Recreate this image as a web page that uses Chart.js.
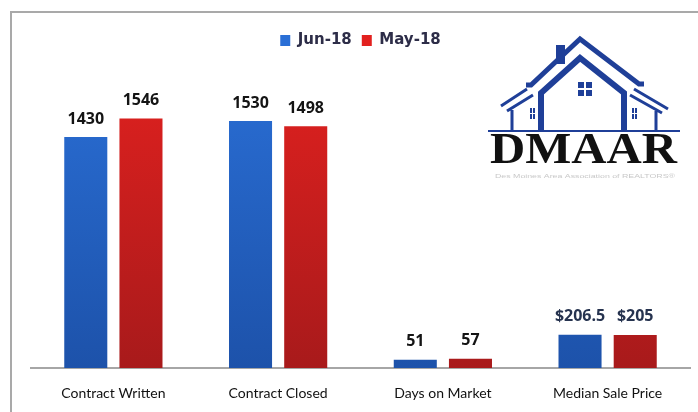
<!DOCTYPE html>
<html>
<head>
<meta charset="utf-8">
<script src="https://cdn.jsdelivr.net/npm/chart.js@4.4.0/dist/chart.umd.min.js"></script>
<style>
  html, body { margin: 0; padding: 0; background: #fff; }
</style>
</head>
<body>
<canvas id="chart" width="698" height="412"></canvas>
<script>
'use strict';

var categories = ['Contract Written', 'Contract Closed', 'Days on Market', 'Median Sale Price'];
var jun18 = [1430, 1530, 51, 206.5];
var may18 = [1546, 1498, 57, 205];
var valuePrefix = ['', '', '', '$'];
var seriesNames = ['Jun-18', 'May-18'];

function barGradient(top, bottom) {
  return function (ctx) {
    var area = ctx.chart.chartArea;
    if (!area) return top;
    var g = ctx.chart.ctx.createLinearGradient(0, area.top, 0, area.bottom);
    g.addColorStop(0, top);
    g.addColorStop(1, bottom);
    return g;
  };
}

// grey frame round the picture
var framePlugin = {
  id: 'frame',
  beforeDraw: function (chart) {
    var c = chart.ctx;
    c.save();
    c.fillStyle = '#fff';
    c.fillRect(0, 0, chart.width, chart.height);
    c.strokeStyle = '#a9a9a9';
    c.lineWidth = 2;
    c.beginPath();
    c.moveTo(11, 412);
    c.lineTo(11, 12);
    c.lineTo(698, 12);
    c.stroke();
    c.restore();
  }
};

// numbers above the bars
var valueLabels = {
  id: 'valueLabels',
  afterDatasetsDraw: function (chart) {
    var c = chart.ctx;
    c.save();
    c.font = 'bold 16px "Open Sans"';
    c.textAlign = 'center';
    c.textBaseline = 'middle';
    chart.data.datasets.forEach(function (ds, i) {
      var meta = chart.getDatasetMeta(i);
      meta.data.forEach(function (bar, j) {
        c.fillStyle = valuePrefix[j] ? '#26334f' : '#141414';
        c.fillText(valuePrefix[j] + ds.data[j], bar.x, bar.y - 18);
      });
    });
    c.restore();
  }
};

// DMAAR logo, top right
var logoPlugin = {
  id: 'logo',
  afterDraw: function (chart) {
    var c = chart.ctx;
    var blue = '#1f3f98';
    c.save();
    c.strokeStyle = blue;
    c.fillStyle = blue;
    c.lineJoin = 'miter';

    // outer roof
    c.lineWidth = 5;
    c.beginPath();
    c.moveTo(526, 85);
    c.lineTo(531, 85);
    c.lineTo(580, 39);
    c.lineTo(639, 84);
    c.lineTo(644, 84);
    c.stroke();
    // chimney
    c.fillRect(556, 45, 9, 19);

    // inner roof and walls
    c.lineWidth = 6;
    c.beginPath();
    c.moveTo(541, 131);
    c.lineTo(541, 93);
    c.lineTo(580, 58);
    c.lineTo(624, 93);
    c.lineTo(624, 131);
    c.stroke();

    // wings
    c.lineWidth = 3;
    c.beginPath();
    c.moveTo(501, 106);
    c.lineTo(527, 89);
    c.moveTo(507, 111);
    c.lineTo(533, 95);
    c.moveTo(512, 110);
    c.lineTo(512, 130);
    c.moveTo(634, 89);
    c.lineTo(668, 109);
    c.moveTo(630, 95);
    c.lineTo(662, 113);
    c.moveTo(656, 111);
    c.lineTo(656, 130);
    c.stroke();

    // ground line
    c.lineWidth = 2;
    c.beginPath();
    c.moveTo(488, 131);
    c.lineTo(680, 131);
    c.stroke();

    // windows
    [[578, 82], [586, 82], [578, 90], [586, 90]].forEach(function (p) {
      c.fillRect(p[0], p[1], 6, 6);
    });
    [[530, 108], [533, 108], [530, 114], [533, 114], [632, 108], [635, 108], [632, 114], [635, 114]].forEach(function (p) {
      c.fillRect(p[0], p[1], 2, 5);
    });

    // name
    c.fillStyle = '#111';
    c.font = 'bold 44px "Liberation Serif"';
    c.textBaseline = 'alphabetic';
    c.textAlign = 'left';
    var w = c.measureText('DMAAR').width;
    c.save();
    c.translate(490, 163);
    c.scale(187 / w, 1);
    c.fillText('DMAAR', 0, 0);
    c.restore();

    c.fillStyle = '#c8c8c8';
    c.font = '6px "Liberation Sans"';
    var sub = 'Des Moines Area Association of REALTORS\u00ae';
    var sw = c.measureText(sub).width;
    c.save();
    c.translate(495, 178);
    c.scale(180 / sw, 1);
    c.fillText(sub, 0, 0);
    c.restore();

    c.restore();
  }
};

var chart = new Chart(document.getElementById('chart').getContext('2d'), {
  type: 'bar',
  data: {
    labels: categories,
    datasets: [
      { label: seriesNames[0], data: jun18, backgroundColor: barGradient('#2a6fd6', '#1d52aa') },
      { label: seriesNames[1], data: may18, backgroundColor: barGradient('#e2211f', '#a81a1b') }
    ]
  },
  options: {
    responsive: false,
    devicePixelRatio: 1,
    animation: false,
    categoryPercentage: 0.67,
    barPercentage: 0.78,
    layout: { padding: { left: 31, right: 8, top: 23, bottom: 9 } },
    plugins: {
      legend: {
        position: 'top',
        labels: {
          boxWidth: 10,
          boxHeight: 11,
          padding: 10,
          color: '#2d2d48',
          font: { family: '"DejaVu Sans"', size: 15, weight: 'bold' }
        }
      },
      tooltip: { enabled: false }
    },
    scales: {
      x: {
        grid: { display: false, drawTicks: false },
        border: { display: true, color: '#a6a6a6', width: 2 },
        ticks: { color: '#111', padding: 17, font: { family: 'Lato', size: 14 } },
        afterFit: function (scale) { scale.height = 35; }
      },
      y: {
        display: false,
        min: 0,
        max: 1920
      }
    }
  },
  plugins: [framePlugin, valueLabels, logoPlugin]
});
</script>
</body>
</html>
